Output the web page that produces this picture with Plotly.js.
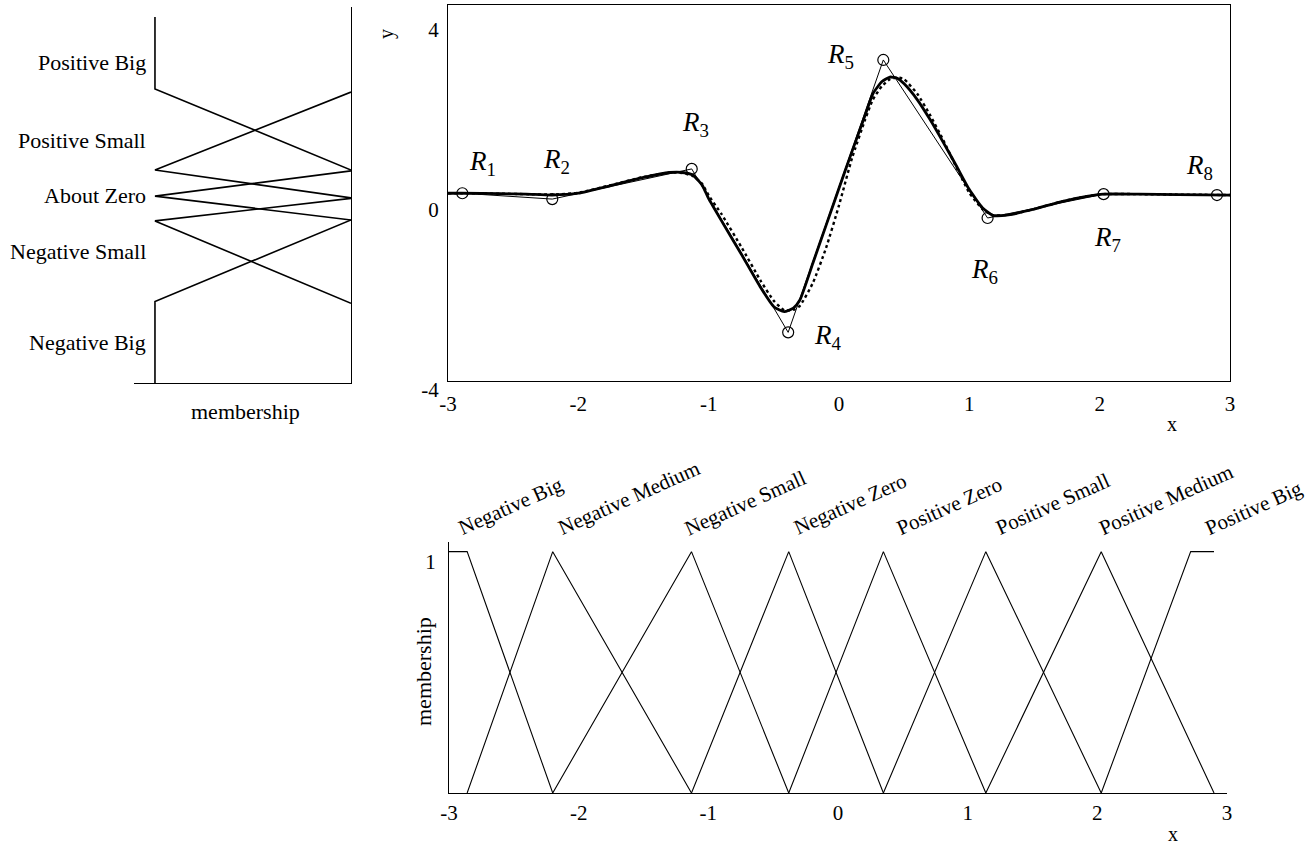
<!DOCTYPE html>
<html>
<head>
<meta charset="utf-8">
<script src="https://cdn.plot.ly/plotly-3.0.1.min.js"></script>
<style>html,body{margin:0;padding:0;background:#fff;}#chart{width:1312px;height:844px;}</style>
</head>
<body>
<div id="chart"></div>
<script>
// ---------- DATA ----------
// Rule points R1..R8 (top chart)
const ruleX = [-2.89, -2.2, -1.13, -0.39, 0.34, 1.14, 2.03, 2.9];
const ruleY = [0.17, 0.04, 0.71, -2.92, 3.13, -0.38, 0.15, 0.13];
// Thin piecewise-linear line through the rule points (incl. ends at the box edges)
const linX = [-3, -2.89, -2.2, -1.13, -0.39, 0.34, 1.14, 2.03, 2.9, 3];
const linY = [0.17, 0.17, 0.04, 0.71, -2.92, 3.13, -0.38, 0.15, 0.13, 0.13];
// Smooth curves (thick solid = model output, dotted = target)
const curveX = [-3, -2.9, -2.6, -2.4, -2.2, -2.0, -1.75, -1.5, -1.3, -1.2, -1.12, -1.05, -1.0, -0.9, -0.75,
  -0.6, -0.5, -0.42, -0.35, -0.3, -0.2, -0.1, 0.0, 0.1, 0.2, 0.26, 0.33, 0.39, 0.45, 0.5,
  0.6, 0.7, 0.8, 0.9, 1.0, 1.1, 1.18, 1.3, 1.5, 1.7, 1.9, 2.03, 2.3, 2.6, 3.0];
const modelY = [0.17, 0.17, 0.16, 0.15, 0.13, 0.17, 0.34, 0.52, 0.63, 0.63, 0.57, 0.35, 0.05, -0.45, -1.18,
  -1.93, -2.35, -2.46, -2.38, -2.2, -1.38, -0.55, 0.28, 1.1, 1.9, 2.38, 2.65, 2.75, 2.72, 2.6,
  2.25, 1.8, 1.3, 0.78, 0.25, -0.15, -0.32, -0.31, -0.18, -0.02, 0.1, 0.15, 0.15, 0.14, 0.13];
const targetY = [0.17, 0.17, 0.16, 0.15, 0.14, 0.18, 0.35, 0.53, 0.63, 0.62, 0.55, 0.38, 0.12, -0.3, -1.02,
  -1.78, -2.22, -2.43, -2.42, -2.33, -1.82, -1.05, -0.1, 0.95, 1.8, 2.25, 2.55, 2.7, 2.74, 2.7,
  2.38, 1.9, 1.35, 0.75, 0.18, -0.18, -0.32, -0.31, -0.18, -0.02, 0.1, 0.15, 0.15, 0.14, 0.13];

// Output membership functions (left panel): y values and membership degrees
const outNames = ["Positive Big", "Positive Small", "About Zero", "Negative Small", "Negative Big"];
const outY = [
  [4.13, 2.53, 0.73],
  [2.46, 0.73, 0.11],
  [0.71, 0.15, -0.38],
  [0.10, -0.40, -2.23],
  [-0.38, -2.19, -4.0]
];
const outMu = [
  [1, 1, 0],
  [0, 1, 0],
  [0, 1, 0],
  [0, 1, 0],
  [0, 1, 1]
];

// Input membership functions (bottom chart)
const inNames = ["Negative Big", "Negative Medium", "Negative Small", "Negative Zero",
  "Positive Zero", "Positive Small", "Positive Medium", "Positive Big"];
const inX = [
  [-3, -2.86, -2.2],
  [-2.86, -2.2, -1.13],
  [-2.2, -1.13, -0.38],
  [-1.13, -0.38, 0.35],
  [-0.38, 0.35, 1.14],
  [0.35, 1.14, 2.03],
  [1.14, 2.03, 2.9],
  [2.03, 2.72, 2.9]
];
const inMu = [
  [1, 1, 0],
  [0, 1, 0],
  [0, 1, 0],
  [0, 1, 0],
  [0, 1, 0],
  [0, 1, 0],
  [0, 1, 0],
  [0, 1, 1]
];
const xTicks = [-3, -2, -1, 0, 1, 2, 3];
const yTicksTop = [-4, 0, 4];
const yTicksBottom = [1];

// ---------- LAYOUT HELPERS ----------
const W = 1312, H = 844;
const px = v => v / W;
const py = v => (H - v) / H;
const FONT = '"Liberation Serif", "Times New Roman", Times, serif';
const hy = arr => arr.map(v => String(v)); // hyphen-minus tick text like the original

// ---------- TRACES ----------
const traces = [];
traces.push({x: curveX, y: modelY, xaxis: 'x', yaxis: 'y', mode: 'lines',
  line: {color: '#000', width: 2.8, shape: 'spline', smoothing: 0.5}, hoverinfo: 'skip'});
traces.push({x: curveX, y: targetY, xaxis: 'x', yaxis: 'y', mode: 'lines',
  line: {color: '#000', width: 2.4, dash: 'dot', shape: 'spline', smoothing: 0.5}, hoverinfo: 'skip'});
traces.push({x: linX, y: linY, xaxis: 'x', yaxis: 'y', mode: 'lines',
  line: {color: '#000', width: 1}, hoverinfo: 'skip'});
traces.push({x: ruleX, y: ruleY, xaxis: 'x', yaxis: 'y', mode: 'markers',
  marker: {symbol: 'circle-open', size: 11, color: '#000', line: {width: 1.2, color: '#000'}}});

outNames.forEach((n, i) => {
  traces.push({x: outMu[i], y: outY[i], xaxis: 'x3', yaxis: 'y3', mode: 'lines', name: n,
    line: {color: '#000', width: 1.6}, hoverinfo: 'skip'});
});
inNames.forEach((n, i) => {
  traces.push({x: inX[i], y: inMu[i], xaxis: 'x2', yaxis: 'y2', mode: 'lines', name: n,
    line: {color: '#000', width: 1.1}, hoverinfo: 'skip'});
});

// ---------- ANNOTATIONS ----------
const ann = [];
// R labels, offset from each rule point (screen px)
const rShift = [[20, 30], [4, 38], [4, 45], [40, -5], [-43, 4], [-3, -53], [4, -45], [-17, 28]];
ruleX.forEach((x, i) => {
  ann.push({x: x, y: ruleY[i], xref: 'x', yref: 'y', showarrow: false, xanchor: 'center', yanchor: 'middle',
    xshift: rShift[i][0], yshift: rShift[i][1],
    text: '<i>R</i><sub>' + (i + 1) + '</sub>', font: {family: FONT, size: 27, color: '#000'}});
});
// Output labels (left panel)
const outLabelPy = [62, 140, 195, 252, 343];
outNames.forEach((n, i) => {
  ann.push({x: px(148), y: py(outLabelPy[i]), xref: 'paper', yref: 'paper', xanchor: 'right', yanchor: 'middle',
    showarrow: false, text: n, font: {family: FONT, size: 22, color: '#000'}});
});
// Input labels (bottom chart), anchored at each set's peak
const inPeakIdx = [1, 1, 1, 1, 1, 1, 1, 1];
const labelDx = [-15, -1, -13, -1, 7, 4, -9, 8];
inNames.forEach((n, i) => {
  ann.push({x: inX[i][inPeakIdx[i]], y: 1, xref: 'x2', yref: 'y2', xanchor: 'left', yanchor: 'bottom',
    xshift: labelDx[i], yshift: 9, textangle: -24, showarrow: false, text: n,
    font: {family: FONT, size: 21, color: '#000'}});
});
// Axis titles
const titleAnn = (x, y, text, angle, size) => ({x: px(x), y: py(y), xref: 'paper', yref: 'paper',
  xanchor: 'center', yanchor: 'middle', showarrow: false, text: text, textangle: angle,
  font: {family: FONT, size: size, color: '#000'}});
ann.push(titleAnn(245, 411, 'membership', 0, 22));
ann.push(titleAnn(386, 34, 'y', -90, 20));
ann.push(titleAnn(1172, 424, 'x', 0, 20));
ann.push(titleAnn(1173, 834, 'x', 0, 20));
ann.push(titleAnn(423, 672, 'membership', -90, 22));

const axBase = {showgrid: false, zeroline: false, ticks: '', linecolor: '#000', linewidth: 1,
  tickfont: {family: FONT, size: 21, color: '#000'}, fixedrange: true};

const layout = {
  width: W, height: H,
  margin: {l: 0, r: 0, t: 0, b: 0},
  paper_bgcolor: '#fff', plot_bgcolor: 'rgba(0,0,0,0)',
  showlegend: false,
  font: {family: FONT, color: '#000'},
  xaxis: Object.assign({}, axBase, {domain: [px(448), px(1230)], range: [-3, 3], anchor: 'y',
    tickvals: xTicks, ticktext: hy(xTicks), showline: true, mirror: true, ticklabelstandoff: 4}),
  yaxis: Object.assign({}, axBase, {domain: [py(381), py(5)], range: [-4, 4.35], anchor: 'x',
    tickvals: yTicksTop, ticktext: hy(yTicksTop), showline: true, mirror: true, ticklabelshift: 9, ticklabelstandoff: 4}),
  xaxis2: Object.assign({}, axBase, {domain: [px(449), px(1227)], range: [-3, 3], anchor: 'y2',
    tickvals: xTicks, ticktext: hy(xTicks), showline: true, ticklabelstandoff: 1}),
  yaxis2: Object.assign({}, axBase, {domain: [py(793), py(542)], range: [0, 1.04], anchor: 'x2',
    tickvals: yTicksBottom, ticktext: hy(yTicksBottom), showline: true, ticklabelshift: 10, ticklabelstandoff: 8}),
  xaxis3: Object.assign({}, axBase, {domain: [px(134), px(351)], range: [1.107, 0], anchor: 'y3',
    showline: true, showticklabels: false}),
  yaxis3: Object.assign({}, axBase, {domain: [py(383), py(7)], range: [-4, 4.35], anchor: 'x3', side: 'right',
    showline: true, showticklabels: false}),
  annotations: ann
};

Plotly.newPlot('chart', traces, layout, {displayModeBar: false, staticPlot: true});
</script>
</body>
</html>
